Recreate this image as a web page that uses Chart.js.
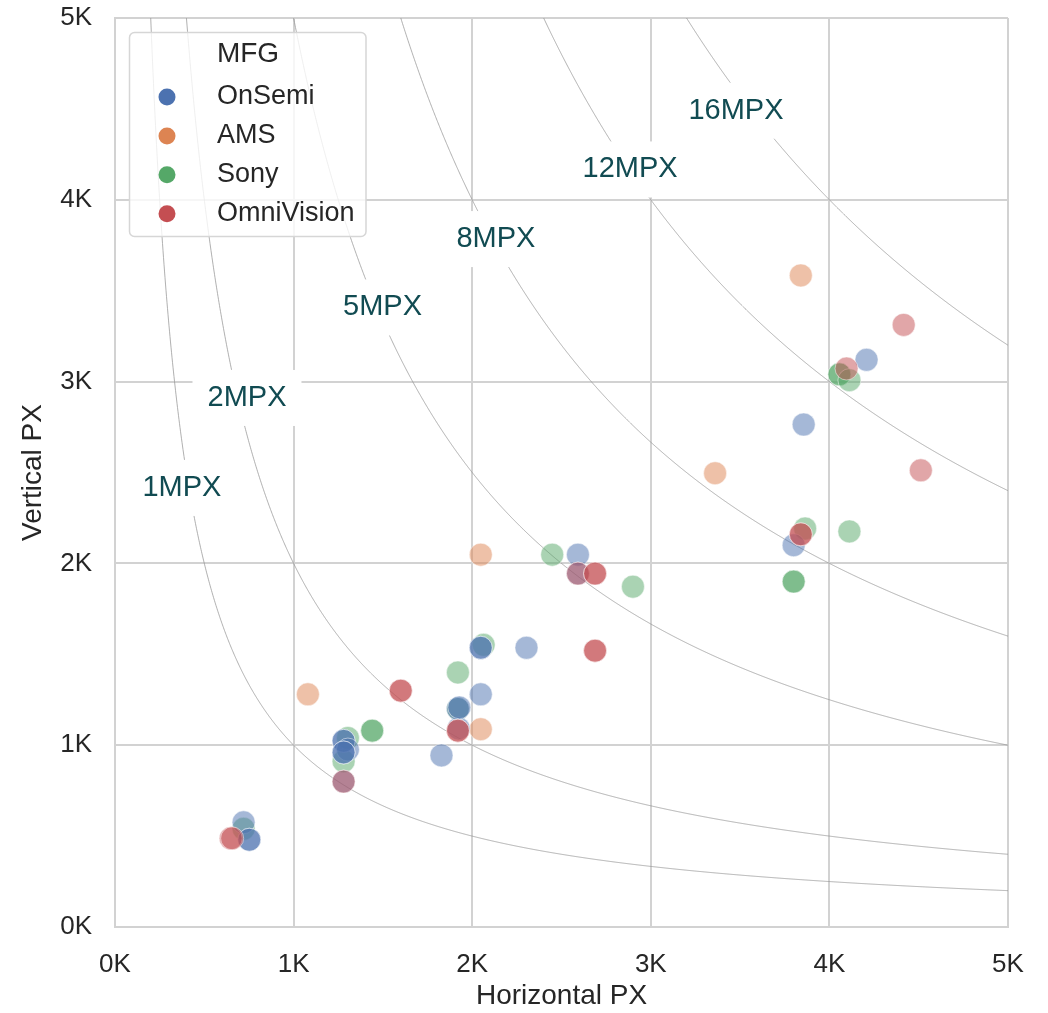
<!DOCTYPE html>
<html>
<head>
<meta charset="utf-8">
<script src="https://cdn.jsdelivr.net/npm/chart.js@4"></script>
<style>
  html, body { margin: 0; padding: 0; background: #ffffff; }
  #wrap { width: 1048px; height: 1013px; }
</style>
</head>
<body>
<div id="wrap"><canvas id="c" width="1048" height="1013"></canvas></div>
<script>
// Sensor resolutions by manufacturer (horizontal / vertical pixels)
const manufacturers = ['OnSemi', 'AMS', 'Sony', 'OmniVision'];

const onsemiH = [720, 752, 752, 1280, 1280, 1304, 1280, 1280, 1280, 1828, 1924, 1920, 1928, 2048, 2048, 2048, 2304, 2592, 2592, 3800, 3856, 4208];
const onsemiV = [576, 480, 480, 1024, 1024, 976, 960, 960, 800, 944, 1092, 1200, 1208, 1536, 1536, 1280, 1536, 2048, 1944, 2100, 2764, 3120];

const amsH = [1080, 2048, 2048, 3360, 3840];
const amsV = [1280, 2048, 1088, 2496, 3584];

const sonyH = [720, 1304, 1280, 1440, 1440, 1920, 1920, 2064, 2448, 2900, 3800, 3800, 3864, 4056, 4056, 4112, 4112];
const sonyV = [540, 1040, 912, 1080, 1080, 1400, 1200, 1552, 2048, 1872, 1900, 1900, 2192, 3040, 3040, 3008, 2176];

const omniH = [648, 656, 1280, 1600, 1600, 1920, 1920, 2592, 2688, 2688, 2688, 2688, 3840, 3840, 4096, 4416, 4512];
const omniV = [488, 488, 800, 1300, 1300, 1080, 1080, 1944, 1944, 1944, 1520, 1520, 2160, 2160, 3072, 3312, 2512];

// Constant-resolution reference curves (megapixels) and where their labels sit
const megapixelLevels = [1, 2, 5, 8, 12, 16];
const levelLabels = ['1MPX', '2MPX', '5MPX', '8MPX', '12MPX', '16MPX'];
const levelLabelX = [375, 739, 1498, 2133, 2884, 3477];
const levelLabelY = [2415, 2910, 3408, 3784, 4167, 4490];

// Axis ticks
const tickValues = [0, 1000, 2000, 3000, 4000, 5000];
const tickLabels = ['0K', '1K', '2K', '3K', '4K', '5K'];

const palette = ['#4c72b0', '#dd8452', '#55a868', '#c44e52'];
const FONT = "'Liberation Sans', Arial, sans-serif";

function pairs(xs, ys) {
  return xs.map((x, i) => ({ x: x, y: ys[i] }));
}
function alpha(hex, a) {
  const n = parseInt(hex.slice(1), 16);
  return 'rgba(' + ((n >> 16) & 255) + ',' + ((n >> 8) & 255) + ',' + (n & 255) + ',' + a + ')';
}

const seriesH = [onsemiH, amsH, sonyH, omniH];
const seriesV = [onsemiV, amsV, sonyV, omniV];
const drawOrder = [1, 3, 2, 0];   // OmniVision on top, then OnSemi, Sony, AMS

const datasets = manufacturers.map((name, i) => ({
  label: name,
  data: pairs(seriesH[i], seriesV[i]),
  backgroundColor: alpha(palette[i], 0.5),
  borderColor: 'rgba(255,255,255,0.5)',
  borderWidth: 1,
  pointRadius: 11.5,
  pointHoverRadius: 11.5,
  order: drawOrder[i]
}));

// Iso-megapixel curves with boxed labels, drawn under the points
const isoCurves = {
  id: 'isoCurves',
  beforeDatasetsDraw(chart) {
    const { ctx, chartArea: a, scales: { x, y } } = chart;
    ctx.save();
    ctx.beginPath();
    ctx.rect(a.left, a.top, a.right - a.left, a.bottom - a.top);
    ctx.clip();
    ctx.strokeStyle = 'rgba(150,150,150,0.75)';
    ctx.lineWidth = 1;
    megapixelLevels.forEach(mp => {
      const total = mp * 1e6;
      ctx.beginPath();
      let started = false;
      for (let px = a.left; px <= a.right; px += 0.5) {
        const hv = x.getValueForPixel(px);
        if (hv <= 0) continue;
        let py = y.getPixelForValue(total / hv);
        if (py < a.top - 200) { py = a.top - 200; }
        if (!started) { ctx.moveTo(px, py); started = true; } else { ctx.lineTo(px, py); }
      }
      ctx.stroke();
    });
    ctx.font = '29px ' + FONT;
    ctx.textAlign = 'center';
    ctx.textBaseline = 'middle';
    levelLabels.forEach((txt, i) => {
      const cx = x.getPixelForValue(levelLabelX[i]);
      const cy = y.getPixelForValue(levelLabelY[i]);
      const w = ctx.measureText(txt).width + 30;
      const h = 56;
      ctx.fillStyle = '#ffffff';
      ctx.fillRect(cx - w / 2, cy - h / 2, w, h);
      ctx.fillStyle = '#114b52';
      ctx.fillText(txt, cx, cy);
    });
    ctx.restore();
  }
};

// Legend box in the upper-left corner of the plot
const mfgLegend = {
  id: 'mfgLegend',
  afterDraw(chart) {
    const ctx = chart.ctx;
    const bx = 129.5, by = 32.5, bw = 236.5, bh = 204, r = 5;
    ctx.save();
    ctx.beginPath();
    ctx.moveTo(bx + r, by);
    ctx.arcTo(bx + bw, by, bx + bw, by + bh, r);
    ctx.arcTo(bx + bw, by + bh, bx, by + bh, r);
    ctx.arcTo(bx, by + bh, bx, by, r);
    ctx.arcTo(bx, by, bx + bw, by, r);
    ctx.closePath();
    ctx.fillStyle = 'rgba(255,255,255,0.8)';
    ctx.fill();
    ctx.strokeStyle = '#d6d6d6';
    ctx.lineWidth = 1.5;
    ctx.stroke();

    ctx.fillStyle = '#262626';
    ctx.font = '28px ' + FONT;
    ctx.textAlign = 'center';
    ctx.textBaseline = 'middle';
    ctx.fillText('MFG', 248, 54);

    ctx.font = '27px ' + FONT;
    ctx.textAlign = 'left';
    manufacturers.forEach((name, i) => {
      const yy = 97 + i * 38.9;
      ctx.beginPath();
      ctx.arc(167, yy, 8.5, 0, Math.PI * 2);
      ctx.fillStyle = palette[i];
      ctx.fill();
      ctx.fillStyle = '#262626';
      ctx.fillText(name, 217, yy);
    });
    ctx.restore();
  }
};

const tickText = v => {
  const k = tickValues.indexOf(v);
  return k >= 0 ? tickLabels[k] : '';
};

const gridStyle = { color: '#d2d2d2', lineWidth: 2, drawTicks: false };
const borderStyle = { display: true, color: '#d2d2d2', width: 2 };

function noEdgePadding(s) {
  s.paddingTop = 0; s.paddingBottom = 0; s.paddingLeft = 0; s.paddingRight = 0;
}

new Chart(document.getElementById('c'), {
  type: 'scatter',
  data: { datasets: datasets },
  options: {
    responsive: false,
    animation: false,
    events: [],
    layout: { padding: { top: 18, right: 40, left: 0, bottom: 0 } },
    plugins: { legend: { display: false }, tooltip: { enabled: false } },
    scales: {
      x: {
        type: 'linear',
        min: 0, max: 5000,
        afterBuildTicks: s => { s.ticks = tickValues.map(v => ({ value: v })); },
        afterFit: s => { s.height = 86; noEdgePadding(s); },
        ticks: { callback: tickText, color: '#262626', font: { size: 26, family: FONT }, padding: 22, maxRotation: 0 },
        grid: gridStyle,
        border: borderStyle,
        title: { display: true, text: 'Horizontal PX', color: '#262626', font: { size: 28, family: FONT }, padding: { top: 0, bottom: 0 } }
      },
      y: {
        type: 'linear',
        min: 0, max: 5000,
        afterBuildTicks: s => { s.ticks = tickValues.map(v => ({ value: v })); },
        afterFit: s => { s.width = 115; noEdgePadding(s); },
        ticks: { callback: tickText, color: '#262626', font: { size: 26, family: FONT }, padding: 23 },
        grid: gridStyle,
        border: borderStyle,
        title: { display: true, text: 'Vertical PX', color: '#262626', font: { size: 28, family: FONT }, padding: { top: 16, bottom: 0 } }
      }
    }
  },
  plugins: [isoCurves, mfgLegend]
});
</script>
</body>
</html>
